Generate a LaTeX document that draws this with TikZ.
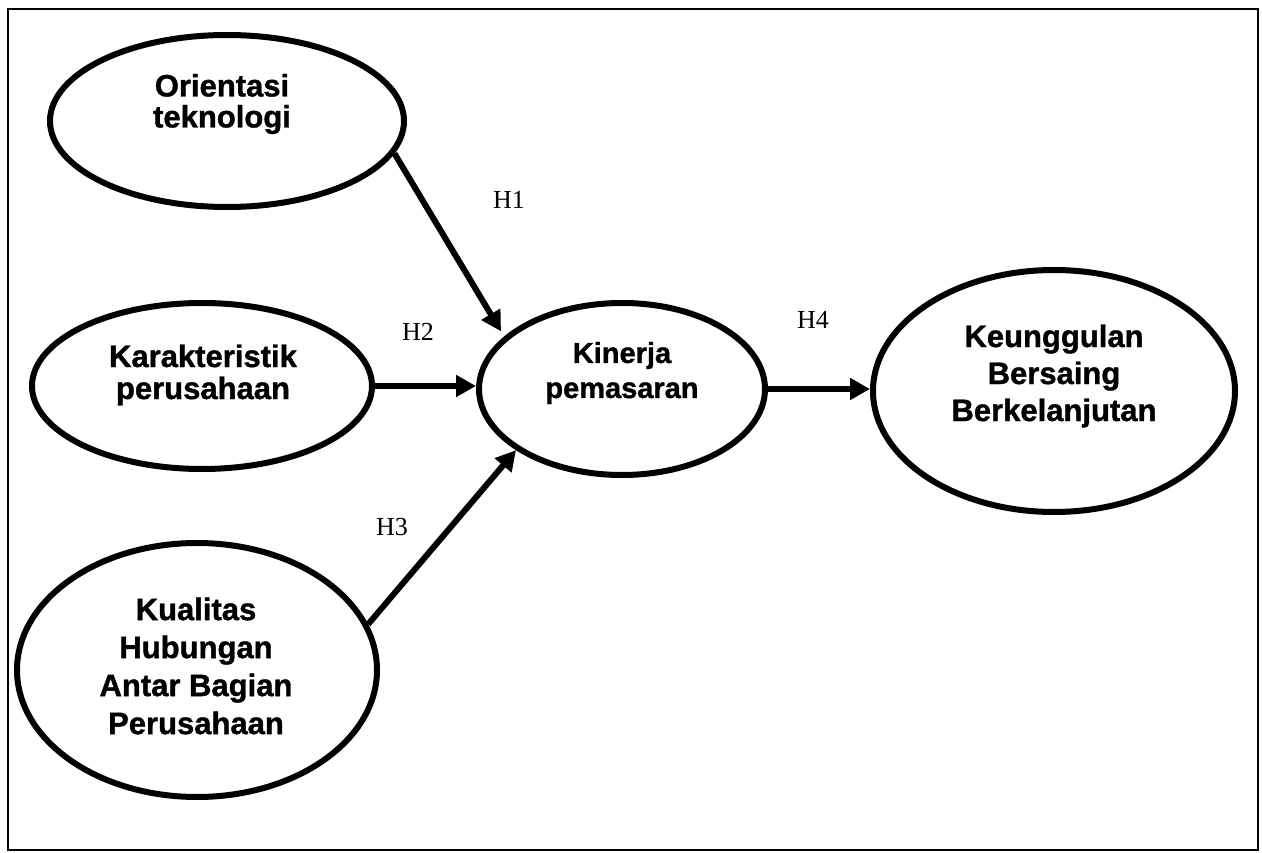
\documentclass[tikz,border=0pt]{standalone}
\usepackage{fontspec}
\setmainfont{Liberation Serif}
\newfontfamily\namefont{Liberation Sans Bold}[FakeBold=1.2]
\usetikzlibrary{arrows.meta,shapes.geometric}

\begin{document}
\begin{tikzpicture}[x=1pt,y=-1pt,
  construct/.style={ellipse, draw, line width=6pt, inner sep=0pt},
  lbl/.style={align=center, inner sep=0pt},
  hyp/.style={font=\fontsize{26}{30}\selectfont, inner sep=0pt},
  link/.style={line width=6pt, -{Triangle[length=20pt,width=21pt]}}]

\useasboundingbox (0,0) rectangle (1262,853);
\draw[line width=2pt] (8,9) rectangle (1258,850);

% constructs
\node[construct, minimum width=354pt, minimum height=172pt] (ori) at (227,121) {};
\node[construct, minimum width=340pt, minimum height=166pt] (kar) at (202,386) {};
\node[construct, minimum width=360pt, minimum height=254pt] (kua) at (197,670) {};
\node[construct, minimum width=286pt, minimum height=172pt] (kin) at (622,389) {};
\node[construct, minimum width=362pt, minimum height=242pt] (keu) at (1054,391) {};

% construct names
\node[lbl, font=\namefont\fontsize{31}{31}\selectfont] (ori-t) at (222,104) {Orientasi\\teknologi};
\node[lbl, font=\namefont\fontsize{31}{32}\selectfont] (kar-t) at (203,375) {Karakteristik\\perusahaan};
\node[lbl, font=\namefont\fontsize{29}{35}\selectfont] (kin-t) at (622,373) {Kinerja\\pemasaran};
\node[lbl, font=\namefont\fontsize{31}{37}\selectfont] (keu-t) at (1054,376) {Keunggulan\\Bersaing\\Berkelanjutan};
\node[lbl, font=\namefont\fontsize{31}{38}\selectfont] (kua-t) at (196,666) {Kualitas\\Hubungan\\Antar Bagian\\Perusahaan};

% hypotheses
\draw[link, shorten >=6pt] (ori.-11) -- (kin.156);
\draw[link] (kar.east) -- (kar.east -| kin.west);
\draw[link] (kua.15) -- (kin.210);
\draw[link] (kin.east) -- (kin.east -| keu.west);

\node[hyp] (h1) at (509,200) {H1};
\node[hyp] (h2) at (418,332) {H2};
\node[hyp] (h3) at (392,527) {H3};
\node[hyp] (h4) at (813,320) {H4};
\end{tikzpicture}
\end{document}
